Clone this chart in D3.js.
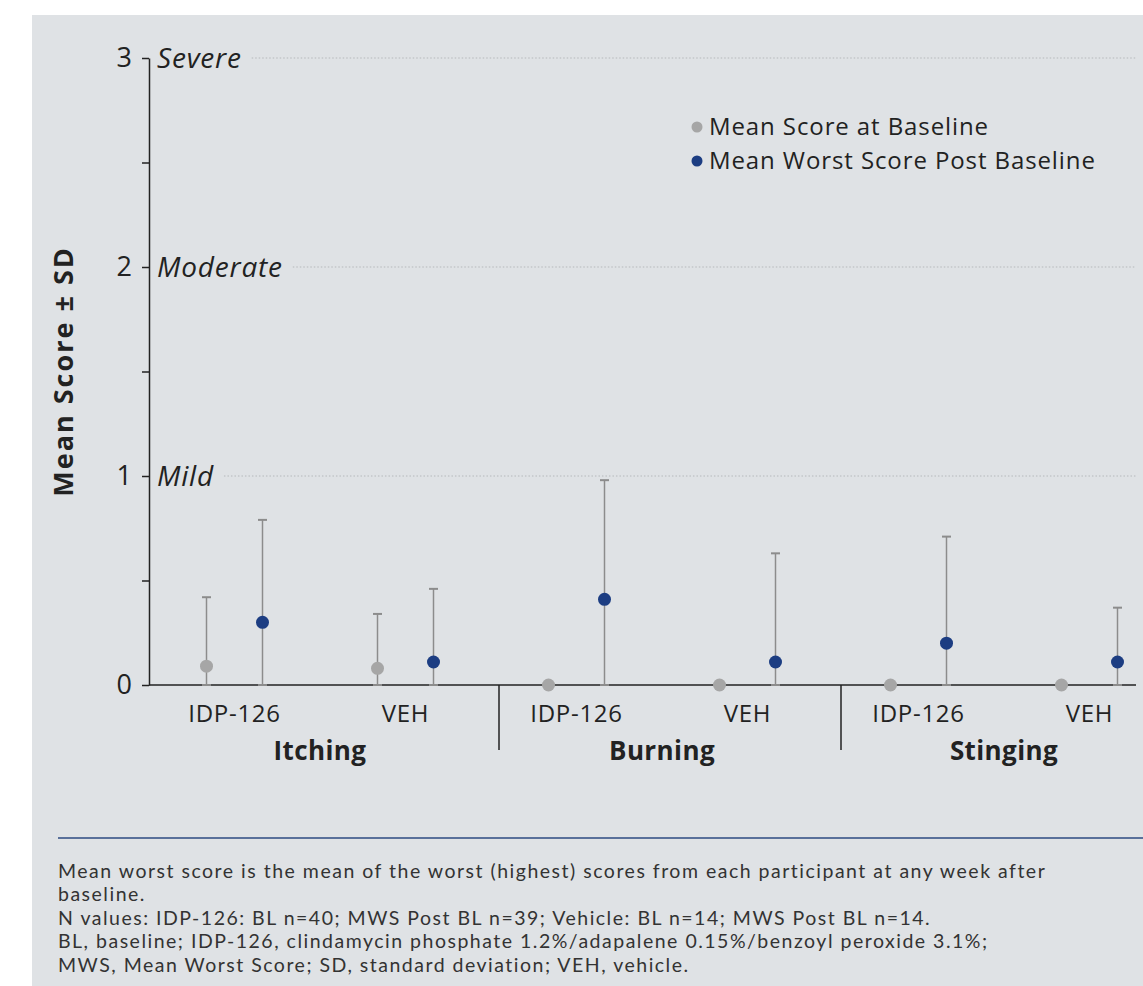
<!DOCTYPE html>
<html>
<head>
<meta charset="utf-8">
<script src="https://cdn.jsdelivr.net/npm/d3@7"></script>
<style>
  body { margin: 0; background: #fff; }
  text { font-family: "Open Sans", "Noto Sans", sans-serif; fill: #222; }
</style>
</head>
<body>
<div id="chart"></div>
<script>
// data
var symptoms = ["Itching", "Burning", "Stinging"]
var treatments = ["IDP-126", "VEH"]
var baselineMean = [0.09, 0.08, 0, 0, 0, 0]
var baselineSD = [0.33, 0.26, 0, 0, 0, 0]
var worstMean = [0.30, 0.11, 0.41, 0.11, 0.20, 0.11]
var worstSD = [0.49, 0.35, 0.57, 0.52, 0.51, 0.26]
var yTicks = [0, 0.5, 1, 1.5, 2, 2.5, 3]
var severity = [{v: 1, label: "Mild"}, {v: 2, label: "Moderate"}, {v: 3, label: "Severe"}]
var legendItems = ["Mean Score at Baseline", "Mean Worst Score Post Baseline"]
var footnotes = [
  "Mean worst score is the mean of the worst (highest) scores from each participant at any week after",
  "baseline.",
  "N values: IDP-126: BL n=40; MWS Post BL n=39; Vehicle: BL n=14; MWS Post BL n=14.",
  "BL, baseline; IDP-126, clindamycin phosphate 1.2%/adapalene 0.15%/benzoyl peroxide 3.1%;",
  "MWS, Mean Worst Score; SD, standard deviation; VEH, vehicle."
]

var width = 1143, height = 986
var grey = "#a6a6a6", blue = "#1c3d82", barColor = "#8c8c8c"

var svg = d3.select("#chart").append("svg")
    .attr("width", width)
    .attr("height", height)

svg.append("rect")
    .attr("x", 32).attr("y", 15)
    .attr("width", width - 32).attr("height", height - 15)
    .attr("fill", "#dfe2e5")

// one key per symptom/treatment pair
var keys = []
symptoms.forEach(s => treatments.forEach(t => keys.push(s + "|" + t)))

var rows = keys.map((k, i) => ({
    key: k,
    treatment: k.split("|")[1],
    base: baselineMean[i], baseSD: baselineSD[i],
    worst: worstMean[i], worstSD: worstSD[i]
}))

var x = d3.scaleBand().domain(keys).range([149, 1175])
var xGroup = d3.scaleBand().domain(symptoms).range([149, 1175])
var y = d3.scaleLinear().domain([0, 3]).range([685, 58])
var offset = 28
var axisRight = 1136

// dotted reference lines with severity labels
var sev = svg.append("g")
sev.selectAll("text")
    .data(severity)
    .enter()
    .append("text")
    .attr("x", 157)
    .attr("y", d => y(d.v))
    .attr("dy", "0.35em")
    .style("font-size", "28px")
    .style("letter-spacing", "0.8px")
    .style("font-style", "italic")
    .text(d => d.label)
    .each(function (d) { d.w = this.getComputedTextLength() })

sev.selectAll("line")
    .data(severity)
    .enter()
    .append("line")
    .attr("x1", d => 157 + d.w + 10)
    .attr("x2", axisRight)
    .attr("y1", d => y(d.v))
    .attr("y2", d => y(d.v))
    .attr("stroke", "#b5b8bb")
    .attr("stroke-width", 1)
    .attr("stroke-dasharray", "1.5,2")

// y axis
var yAxis = svg.append("g")
    .attr("transform", "translate(149,0)")
    .call(d3.axisLeft(y)
        .tickValues(yTicks)
        .tickSize(7)
        .tickSizeOuter(0)
        .tickPadding(10)
        .tickFormat(d => Number.isInteger(d) ? d : ""))
yAxis.selectAll("path, line").attr("stroke", "#222").attr("stroke-width", 1.5)
yAxis.selectAll("text")
    .style("font-size", "27px")
    .style("font-family", "'Open Sans', sans-serif")
    .attr("fill", "#222")

svg.append("text")
    .attr("transform", "translate(73," + y(1.5) + ") rotate(-90)")
    .attr("text-anchor", "middle")
    .style("font-size", "27px")
    .style("letter-spacing", "2px")
    .style("font-weight", "bold")
    .text("Mean Score \u00b1 SD")

// x axis line
svg.append("line")
    .attr("x1", 149).attr("x2", axisRight)
    .attr("y1", y(0)).attr("y2", y(0))
    .attr("stroke", "#222").attr("stroke-width", 1.5)

// separators between symptom groups
svg.selectAll(".sep")
    .data(symptoms.slice(1))
    .enter()
    .append("line")
    .attr("x1", d => xGroup(d) + 8)
    .attr("x2", d => xGroup(d) + 8)
    .attr("y1", y(0))
    .attr("y2", 750)
    .attr("stroke", "#222").attr("stroke-width", 1.5)

svg.selectAll(".tlab")
    .data(rows)
    .enter()
    .append("text")
    .attr("x", d => x(d.key) + x.bandwidth() / 2)
    .attr("y", 714)
    .attr("dy", "0.35em")
    .attr("text-anchor", "middle")
    .style("font-size", "24px")
    .style("letter-spacing", "0.7px")
    .text(d => d.treatment)

svg.selectAll(".glab")
    .data(symptoms)
    .enter()
    .append("text")
    .attr("x", d => xGroup(d) + xGroup.bandwidth() / 2)
    .attr("y", 751)
    .attr("dy", "0.35em")
    .attr("text-anchor", "middle")
    .style("font-size", "26px")
    .style("letter-spacing", "0.4px")
    .style("font-weight", "bold")
    .text(d => d)

// error bars and points
function drawSeries(cls, meanKey, sdKey, dx, color) {
    var g = svg.append("g").attr("class", cls)
    var withBars = rows.filter(d => d[sdKey] > 0)
    var cx = d => x(d.key) + x.bandwidth() / 2 + dx
    g.selectAll("line.bar")
        .data(withBars)
        .enter()
        .append("line")
        .attr("x1", cx).attr("x2", cx)
        .attr("y1", d => y(Math.max(0, d[meanKey] - d[sdKey])))
        .attr("y2", d => y(d[meanKey] + d[sdKey]))
        .attr("stroke", barColor).attr("stroke-width", 1.5)
    g.selectAll("line.capTop")
        .data(withBars)
        .enter()
        .append("line")
        .attr("x1", d => cx(d) - 4.5).attr("x2", d => cx(d) + 4.5)
        .attr("y1", d => y(d[meanKey] + d[sdKey]))
        .attr("y2", d => y(d[meanKey] + d[sdKey]))
        .attr("stroke", barColor).attr("stroke-width", 2)
    g.selectAll("line.capBot")
        .data(withBars)
        .enter()
        .append("line")
        .attr("x1", d => cx(d) - 4.5).attr("x2", d => cx(d) + 4.5)
        .attr("y1", d => y(Math.max(0, d[meanKey] - d[sdKey])))
        .attr("y2", d => y(Math.max(0, d[meanKey] - d[sdKey])))
        .attr("stroke", barColor).attr("stroke-width", 2)
    g.selectAll("circle")
        .data(rows)
        .enter()
        .append("circle")
        .attr("cx", cx)
        .attr("cy", d => y(d[meanKey]))
        .attr("r", 6.5)
        .attr("fill", color)
}
drawSeries("base", "base", "baseSD", -offset, grey)
drawSeries("worst", "worst", "worstSD", offset, blue)

// legend
var legend = svg.append("g")
legend.selectAll("circle")
    .data(legendItems)
    .enter()
    .append("circle")
    .attr("cx", 697)
    .attr("cy", (d, i) => 127 + i * 34)
    .attr("r", 5.5)
    .attr("fill", (d, i) => i === 0 ? grey : blue)
legend.selectAll("text")
    .data(legendItems)
    .enter()
    .append("text")
    .attr("x", 709)
    .attr("y", (d, i) => 127 + i * 34)
    .attr("dy", "0.35em")
    .style("font-size", "24px")
    .style("letter-spacing", "0.9px")
    .text(d => d)

// footnote block
svg.append("line")
    .attr("x1", 58).attr("x2", width)
    .attr("y1", 838).attr("y2", 838)
    .attr("stroke", "#2c4a80").attr("stroke-width", 1.5)

svg.selectAll(".foot")
    .data(footnotes)
    .enter()
    .append("text")
    .attr("x", 58)
    .attr("y", (d, i) => 871 + i * 23.5)
    .attr("dy", "0.35em")
    .style("font-family", "Lato, sans-serif")
    .style("font-size", "19.5px")
    .style("letter-spacing", "1.5px")
    .style("fill", "#333")
    .text(d => d)
</script>
</body>
</html>
